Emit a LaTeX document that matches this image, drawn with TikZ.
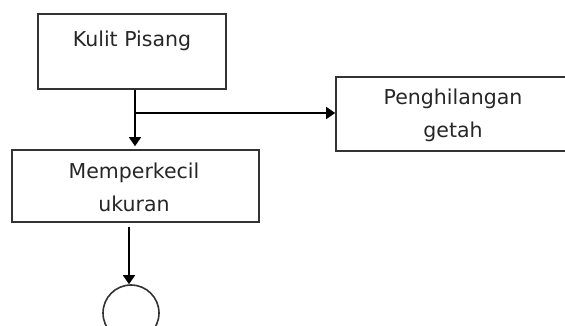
\documentclass[tikz,border=0pt]{standalone}
\usepackage{fontspec}
\setmainfont{DejaVu Sans}
\usetikzlibrary{arrows.meta,shapes.geometric}

\tikzset{
  box/.style={draw=black!80, line width=1.6pt, rectangle, inner sep=0pt},
  lbl/.style={font=\fontsize{20.5}{33}\selectfont, text=black!85, align=center, inner sep=0pt},
  flow/.style={draw=black, line width=1.5pt},
  arr/.style={flow, -{Triangle[width=12pt,length=9pt]}},
}

\begin{document}
\begin{tikzpicture}[x=1pt, y=-1pt]
  \useasboundingbox (0,0) rectangle (565,325);
  \clip (0,0) rectangle (565,325);

  % process boxes
  \node[box, minimum width=188pt, minimum height=75pt] (kp) at (132,51.5) {};
  \node[box, minimum width=247pt, minimum height=72pt] (mu) at (135.5,186) {};
  \node[box, minimum width=260pt, minimum height=74pt] (pg) at (466,114) {};
  \node[draw=black!80, line width=1.6pt, ellipse, minimum width=56pt, minimum height=56pt, inner sep=0pt] (end) at (131,313) {};

  % labels
  \node[lbl] (kpt) at (132,41) {Kulit Pisang};
  \node[lbl] (mut) at (134,187) {Memperkecil\\ukuran};
  \node[lbl] (pgt) at (453,115) {Penghilangan\\getah};

  % connectors
  \coordinate (fork) at (135,113);
  \coordinate (muout) at (129,227);
  \draw[flow] (kp.south -| fork) -- (fork);
  \draw[arr, shorten >=3pt] (fork) -- (fork |- mu.north);
  \draw[arr] (fork) -- (fork -| pg.west);
  \draw[arr] (muout) -- (end.north -| muout);
\end{tikzpicture}
\end{document}
